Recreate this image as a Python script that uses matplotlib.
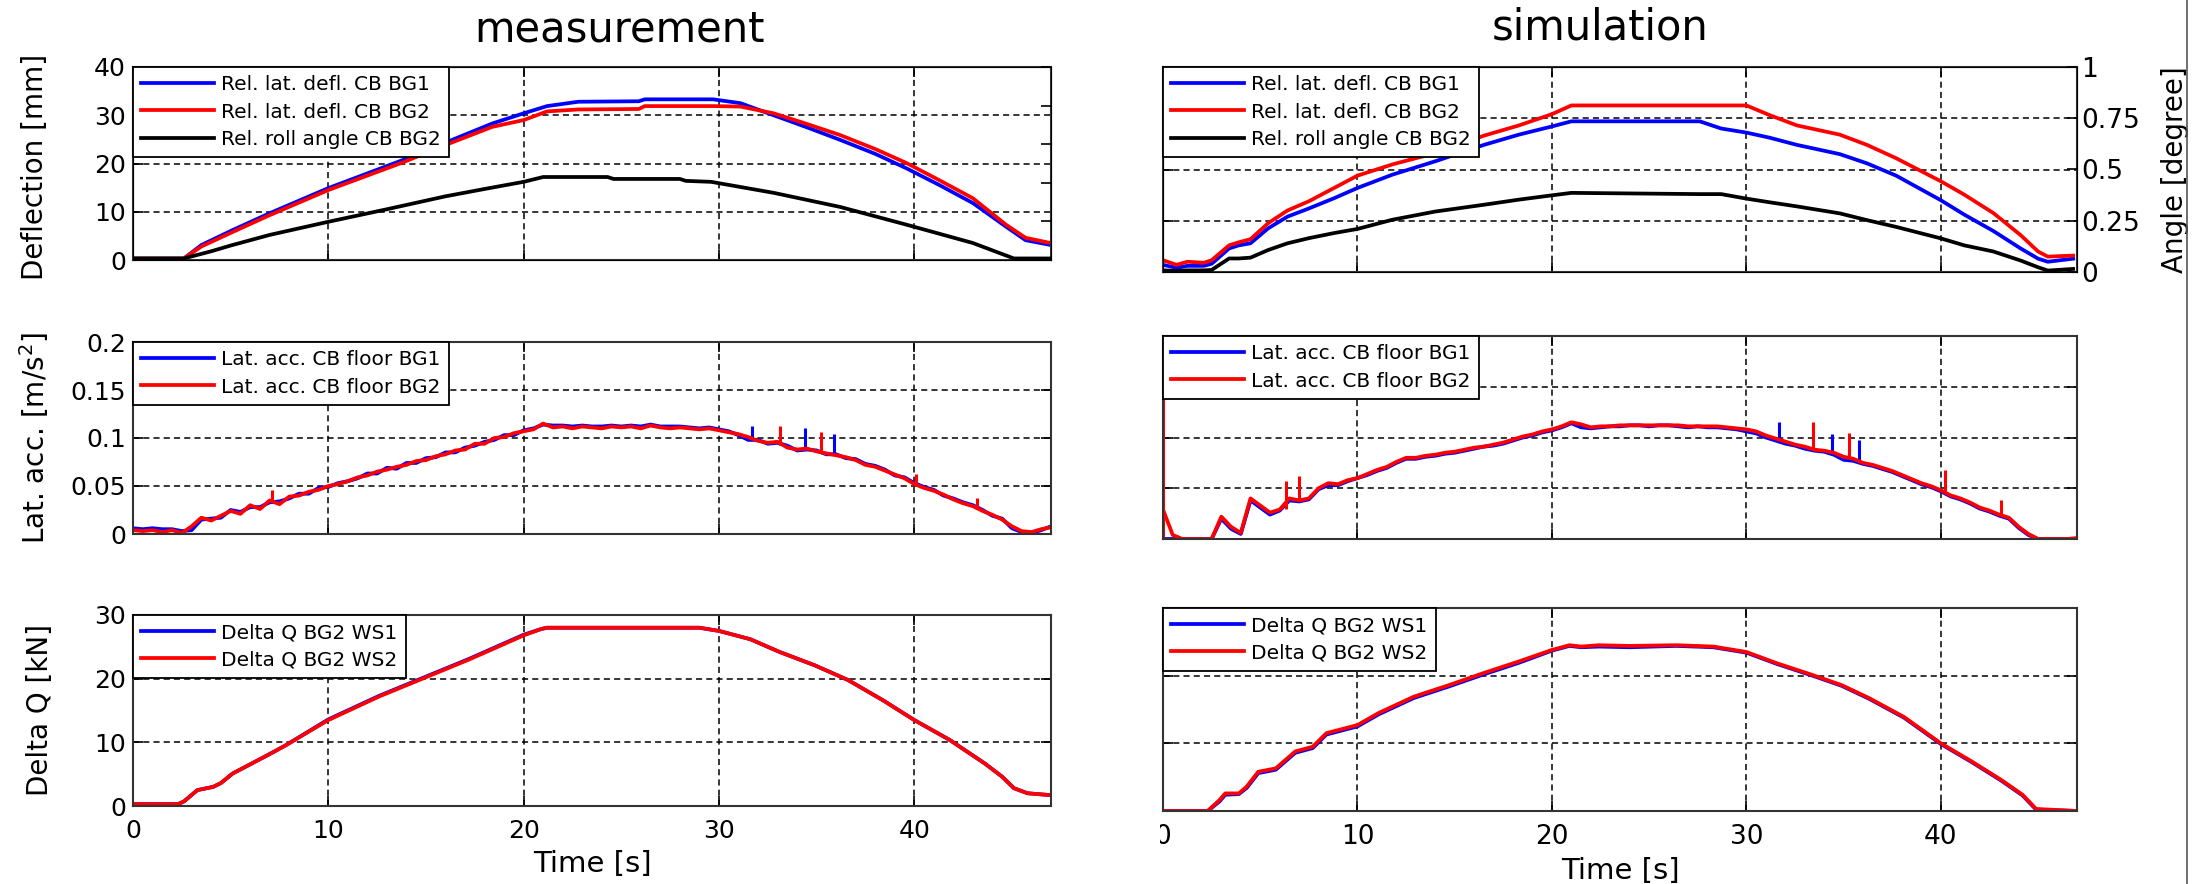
import numpy as np
import matplotlib
matplotlib.use('Agg')
import matplotlib.pyplot as plt
from matplotlib.ticker import FormatStrFormatter
from matplotlib.patches import Rectangle
from matplotlib.lines import Line2D

# ---------------- data ----------------
# measurement, deflection [mm]
meas_defl_t = [0, 2.6, 3.5, 5.1, 7, 10, 13.8, 16.1, 18.4, 20, 21.2, 22.8, 25.9, 26.2,
               29.7, 31.1, 32.8, 34.5, 36.2, 38, 39.6, 41.3, 43, 44.7, 45.7, 47]
meas_defl_bg1 = [0.3, 0.3, 3.1, 6.2, 9.7, 14.9, 20.7, 24.5, 28.3, 30.4, 31.9, 32.8, 32.9, 33.3,
                 33.3, 32.5, 30.0, 27.5, 24.9, 22.0, 19.0, 15.5, 11.8, 6.9, 4.1, 3.1]
meas_defl_bg2 = [0.3, 0.3, 2.8, 5.8, 9.3, 14.5, 20.2, 24.0, 27.6, 29.0, 30.8, 31.2, 31.3, 31.9,
                 31.9, 31.8, 30.4, 28.2, 25.9, 23.0, 20.1, 16.5, 12.8, 7.3, 4.6, 3.5]
# measurement, roll angle [degree]
meas_roll_t = [0, 2.6, 4, 5, 7, 10, 13, 16, 18, 20, 21, 24.3, 24.6, 28, 28.3, 29.6,
               32.8, 36.2, 39.6, 43, 45.1, 47]
meas_roll = [0.008, 0.008, 0.045, 0.075, 0.13, 0.198, 0.263, 0.33, 0.368, 0.405, 0.43, 0.43,
             0.42, 0.42, 0.41, 0.405, 0.348, 0.275, 0.183, 0.088, 0.008, 0.008]

# lateral acceleration [m/s^2], sampled every 0.5 s from 0 to 47 s
acc_t = np.arange(0, 47.01, 0.5)
meas_acc_bg1 = [.006, .005, .006, .005, .005, .003, .004, .015, .016, .017,
                .025, .023, .028, .028, .033, .034, .037, .042, .042, .048,
                .049, .053, .055, .058, .063, .063, .069, .068, .074, .074,
                .079, .080, .085, .085, .090, .092, .096, .098, .103, .103,
                .108, .110, .114, .113, .113, .112, .113, .112, .112, .113,
                .112, .113, .112, .114, .112, .112, .112, .111, .110, .111,
                .109, .107, .103, .098, .098, .094, .095, .092, .087, .088,
                .087, .083, .083, .079, .078, .073, .071, .067, .061, .059,
                .053, .049, .046, .040, .037, .033, .030, .025, .019, .016,
                .006, .002, .001, .004, .008]
meas_acc_bg2 = [.004, .003, .004, .002, .004, .001, .008, .017, .014, .019,
                .024, .021, .030, .026, .035, .031, .039, .040, .044, .046,
                .050, .052, .055, .059, .061, .065, .067, .070, .072, .076,
                .077, .081, .083, .087, .088, .094, .094, .100, .101, .105,
                .107, .109, .115, .111, .112, .110, .112, .111, .110, .112,
                .111, .112, .110, .113, .111, .110, .111, .110, .109, .110,
                .108, .106, .104, .101, .097, .095, .096, .090, .088, .089,
                .086, .084, .082, .080, .077, .072, .070, .066, .062, .058,
                .052, .048, .045, .041, .036, .032, .029, .024, .020, .015,
                .008, .003, .002, .005, .007]
meas_spk_bg1_t = [31.7, 34.4, 35.9]
meas_spk_bg1_lo = [.098, .088, .082]
meas_spk_bg1_hi = [.112, .110, .104]
meas_spk_bg2_t = [7.1, 33.1, 35.2, 40.1, 43.2]
meas_spk_bg2_lo = [.033, .093, .085, .051, .026]
meas_spk_bg2_hi = [.046, .113, .106, .063, .037]

sim_acc_bg1 = [.000, .000, .000, .000, .000, .000, .020, .010, .005, .038,
               .031, .024, .028, .038, .037, .039, .049, .053, .053, .057,
               .060, .063, .067, .070, .075, .079, .079, .081, .082, .084,
               .085, .087, .089, .091, .092, .094, .097, .100, .102, .105,
               .107, .110, .114, .110, .109, .110, .111, .111, .112, .112,
               .111, .112, .112, .111, .110, .111, .110, .110, .109, .108,
               .106, .104, .100, .097, .094, .092, .089, .087, .086, .083,
               .078, .077, .074, .072, .069, .066, .062, .058, .054, .051,
               .047, .042, .039, .035, .030, .027, .023, .020, .011, .004,
               .000, .000, .000, .000, .000]
sim_acc_bg2 = [.029, .004, .000, .000, .000, .000, .022, .012, .006, .040,
               .033, .026, .029, .040, .038, .040, .050, .055, .054, .058,
               .060, .064, .068, .071, .076, .080, .080, .082, .083, .085,
               .086, .088, .090, .091, .093, .095, .098, .101, .103, .106,
               .108, .111, .115, .113, .110, .111, .111, .112, .112, .112,
               .112, .112, .112, .112, .111, .111, .111, .111, .110, .109,
               .108, .106, .102, .099, .096, .093, .091, .088, .087, .085,
               .081, .079, .075, .073, .070, .067, .063, .059, .055, .052,
               .048, .043, .040, .036, .031, .028, .024, .021, .012, .005,
               .000, .000, .000, .000, .001]
sim_spk_bg1_t = [31.7, 34.4, 35.8]
sim_spk_bg1_lo = [.099, .085, .077]
sim_spk_bg1_hi = [.115, .103, .098]
sim_spk_bg2_t = [0.0, 6.3, 7.0, 33.4, 35.3, 40.2, 43.1]
sim_spk_bg2_lo = [0, .030, .038, .088, .081, .047, .024]
sim_spk_bg2_hi = [.139, .057, .062, .115, .104, .068, .038]

# measurement, delta Q [kN]
meas_dq_t = [0, 2.3, 2.6, 3.3, 4.1, 4.5, 5.1, 6.9, 7.8, 10, 12.6, 14.9, 17.2, 20, 20.9, 21.2,
             29, 30, 31.6, 33.1, 34.9, 36.6, 38.4, 40, 41.8, 43.6, 44.5, 45.1, 45.8, 47]
meas_dq_ws1 = [0.3, 0.3, 0.7, 2.5, 3.0, 3.6, 5.1, 8.0, 9.5, 13.6, 17.3, 20.2, 23.1, 26.9, 27.8, 28.0,
               28.0, 27.5, 26.2, 24.2, 22.1, 19.8, 16.6, 13.5, 10.4, 6.7, 4.6, 2.8, 2.0, 1.7]
meas_dq_ws2 = [0.3, 0.3, 0.7, 2.5, 3.0, 3.6, 5.1, 8.0, 9.5, 13.5, 17.2, 20.1, 23.0, 26.8, 27.8, 28.0,
               28.0, 27.5, 26.2, 24.2, 22.1, 19.8, 16.6, 13.5, 10.4, 6.7, 4.6, 2.8, 2.0, 1.7]

# simulation, deflection [mm] and roll angle [degree]
sim_top_t = [0, 0.7, 1.25, 2.1, 2.5, 3.4, 3.9, 4.5, 5.4, 6.4, 7.5, 8.8, 10, 11.8, 14, 16.5,
             18.3, 20, 21, 27.6, 28.7, 30, 31.2, 32.6, 34.8, 36.2, 37.7, 40, 41.2, 42.7, 44.1,
             45, 45.5, 46.8]
sim_defl_bg1 = [1.4, 0.8, 1.2, 1.2, 1.6, 4.6, 5.2, 5.6, 8.5, 10.8, 12.4, 14.4, 16.4, 19.0, 21.6,
                24.8, 26.8, 28.4, 29.4, 29.4, 28.0, 27.2, 26.2, 24.8, 23.0, 21.2, 18.8, 14.0,
                11.2, 8.0, 4.6, 2.6, 2.0, 2.6]
sim_defl_bg2 = [2.3, 1.4, 2.0, 1.8, 2.3, 5.2, 5.8, 6.4, 9.5, 12.0, 13.8, 16.4, 18.8, 21.0, 23.2,
                26.6, 28.6, 30.8, 32.5, 32.5, 32.5, 32.5, 30.6, 28.6, 26.8, 24.8, 22.2, 17.7,
                15.1, 11.5, 7.2, 4.0, 3.0, 3.2]
sim_roll = [0.008, 0.005, 0.008, 0.008, 0.01, 0.066, 0.066, 0.07, 0.107, 0.14, 0.165, 0.19,
            0.21, 0.255, 0.295, 0.328, 0.353, 0.374, 0.386, 0.38, 0.38, 0.358, 0.34, 0.32,
            0.286, 0.253, 0.22, 0.164, 0.13, 0.1, 0.056, 0.023, 0.007, 0.015]

# simulation, delta Q [kN]
sim_dq_t = [0, 2.3, 2.9, 3.2, 3.9, 4.3, 4.9, 5.8, 6.8, 7.7, 8.4, 10, 11.1, 12.9, 14.7, 16.5,
            18.3, 20, 20.9, 21.5, 22.4, 24, 26.4, 28.3, 30, 31.6, 33.4, 34.9, 36.3, 38.1, 40,
            41.6, 43.1, 44.2, 44.9, 47]
sim_dq_ws1 = [0, 0, 1.4, 2.4, 2.5, 3.4, 5.6, 6.1, 8.6, 9.3, 11.3, 12.5, 14.3, 16.7, 18.4, 20.2,
              21.9, 23.7, 24.4, 24.2, 24.3, 24.2, 24.4, 24.2, 23.4, 21.7, 20.0, 18.5, 16.6, 13.8,
              9.9, 7.2, 4.5, 2.3, 0.2, 0]
sim_dq_ws2 = [0, 0, 1.6, 2.6, 2.6, 3.6, 5.8, 6.3, 8.8, 9.5, 11.5, 12.7, 14.5, 16.9, 18.6, 20.4,
              22.1, 23.8, 24.5, 24.3, 24.5, 24.4, 24.5, 24.3, 23.5, 21.8, 20.1, 18.6, 16.7, 13.9,
              10.0, 7.3, 4.6, 2.4, 0.3, 0]

# ---------------- figure ----------------
W, H = 2194, 884
fig = plt.figure(figsize=(W / 100, H / 100), dpi=100)

BLUE, RED = '#0000ff', '#ff0000'
LW = 2.7


def rect(x0, y0, x1, y1):
    return [x0 / W, 1 - y1 / H, (x1 - x0) / W, (y1 - y0) / H]


def setup(ax, ylim, yticks, show_y=True, show_x=False):
    ax.set_xlim(0, 47)
    ax.set_ylim(*ylim)
    ax.set_xticks([0, 10, 20, 30, 40])
    ax.set_yticks(yticks)
    ax.yaxis.set_major_formatter(FormatStrFormatter('%g'))
    ax.tick_params(direction='in', length=7, width=1.2, top=True, right=True,
                   labelsize=18, colors='black')
    ax.tick_params(axis='x', pad=9)
    ax.tick_params(axis='y', pad=5)
    ax.grid(True, color='black', linewidth=1.1, linestyle=(0, (4, 2.7)))
    for s in ax.spines.values():
        s.set_linewidth(1.5)
        s.set_color('#333333')
    if not show_x:
        ax.tick_params(labelbottom=False)
    if not show_y:
        ax.tick_params(labelleft=False)


def legend(ax, handles=None):
    kw = dict(loc='upper left', fontsize=14.5, handlelength=3.6, handletextpad=0.35,
              borderpad=0.42, labelspacing=0.4, borderaxespad=0, fancybox=False,
              framealpha=1, edgecolor='black')
    lg = ax.legend(handles=handles, **kw) if handles else ax.legend(**kw)
    lg.get_frame().set_linewidth(1.3)


# --- measurement column ---
ax = fig.add_axes(rect(133, 67, 1051, 260))
setup(ax, (0, 40), [0, 10, 20, 30, 40])
ax.tick_params(right=False)
h1, = ax.plot(meas_defl_t, meas_defl_bg1, color=BLUE, lw=LW, label='Rel. lat. defl. CB BG1')
h2, = ax.plot(meas_defl_t, meas_defl_bg2, color=RED, lw=LW, label='Rel. lat. defl. CB BG2')
ax.set_ylabel('Deflection [mm]', fontsize=20)
ax.yaxis.set_label_coords(-0.092, 0.48)
axr = ax.twinx()
axr.set_ylim(0, 1)
axr.tick_params(direction='in', length=7, width=1.2, labelright=False)
h3, = axr.plot(meas_roll_t, meas_roll, color='black', lw=LW, label='Rel. roll angle CB BG2')
legend(axr, [h1, h2, h3])

ax = fig.add_axes(rect(133, 342, 1051, 534))
setup(ax, (0, 0.2), [0, 0.05, 0.1, 0.15, 0.2])
ax.plot(acc_t, meas_acc_bg1, color=BLUE, lw=LW, label='Lat. acc. CB floor BG1')
ax.vlines(meas_spk_bg1_t, meas_spk_bg1_lo, meas_spk_bg1_hi, color=BLUE, lw=2.2)
ax.plot(acc_t, meas_acc_bg2, color=RED, lw=LW, label='Lat. acc. CB floor BG2')
ax.vlines(meas_spk_bg2_t, meas_spk_bg2_lo, meas_spk_bg2_hi, color=RED, lw=2.2)
ax.set_ylabel('Lat. acc. [m/s$^2$]', fontsize=20)
ax.yaxis.set_label_coords(-0.089, 0.5)
legend(ax)

ax = fig.add_axes(rect(133, 615, 1051, 806))
setup(ax, (0, 30), [0, 10, 20, 30], show_x=True)
ax.plot(meas_dq_t, meas_dq_ws1, color=BLUE, lw=LW, label='Delta Q BG2 WS1')
ax.plot(meas_dq_t, meas_dq_ws2, color=RED, lw=LW, label='Delta Q BG2 WS2')
ax.set_ylabel('Delta Q [kN]', fontsize=20)
ax.yaxis.set_label_coords(-0.086, 0.5)
ax.set_xlabel('Time [s]', fontsize=21)
ax.xaxis.set_label_coords(0.5, -0.23)
legend(ax)

# --- simulation column ---
ax = fig.add_axes(rect(1163, 67, 2077, 272))
setup(ax, (0, 40), [0, 10, 20, 30, 40], show_y=False)
ax.tick_params(right=False)
h1, = ax.plot(sim_top_t, sim_defl_bg1, color=BLUE, lw=LW, label='Rel. lat. defl. CB BG1')
h2, = ax.plot(sim_top_t, sim_defl_bg2, color=RED, lw=LW, label='Rel. lat. defl. CB BG2')
axr = ax.twinx()
axr.set_ylim(0, 1)
axr.set_yticks([0, 0.25, 0.5, 0.75, 1])
axr.yaxis.set_major_formatter(FormatStrFormatter('%g'))
axr.tick_params(direction='in', length=7, width=1.2, labelsize=19, pad=3)
h3, = axr.plot(sim_top_t, sim_roll, color='black', lw=LW, label='Rel. roll angle CB BG2')
axr.set_ylabel('Angle [degree]', fontsize=20, rotation=90)
axr.yaxis.set_label_coords(1.092, 0.5)
legend(axr, [h1, h2, h3])

ax = fig.add_axes(rect(1163, 336, 2077, 539))
setup(ax, (0, 0.2), [0, 0.05, 0.1, 0.15, 0.2], show_y=False)
ax.plot(acc_t, sim_acc_bg1, color=BLUE, lw=LW, label='Lat. acc. CB floor BG1')
ax.vlines(sim_spk_bg1_t, sim_spk_bg1_lo, sim_spk_bg1_hi, color=BLUE, lw=2.2)
ax.plot(acc_t, sim_acc_bg2, color=RED, lw=LW, label='Lat. acc. CB floor BG2')
ax.vlines(sim_spk_bg2_t, sim_spk_bg2_lo, sim_spk_bg2_hi, color=RED, lw=2.2)
legend(ax)

ax = fig.add_axes(rect(1163, 608, 2077, 811))
setup(ax, (0, 30), [0, 10, 20, 30], show_y=False, show_x=True)
ax.tick_params(axis='x', labelsize=19)
ax.plot(sim_dq_t, sim_dq_ws1, color=BLUE, lw=LW, label='Delta Q BG2 WS1')
ax.plot(sim_dq_t, sim_dq_ws2, color=RED, lw=LW, label='Delta Q BG2 WS2')
ax.set_xlabel('Time [s]', fontsize=21)
ax.xaxis.set_label_coords(0.5, -0.227)
legend(ax)

# titles
fig.text(620 / W, 1 - 30 / H, 'measurement', ha='center', va='center', fontsize=30)
fig.text(1600 / W, 1 - 27 / H, 'simulation', ha='center', va='center', fontsize=30)

# the pasted panels cut the "0" under the simulation axes and leave a border on the right
fig.add_artist(Rectangle((1138 / W, 1 - 852 / H), 22 / W, 38 / H, transform=fig.transFigure,
                         facecolor='white', edgecolor='none', zorder=10))
fig.add_artist(Line2D([2187 / W, 2187 / W], [0, 1], transform=fig.transFigure,
                      color='#555555', lw=1.2))

fig.savefig('out.png', dpi=100)
